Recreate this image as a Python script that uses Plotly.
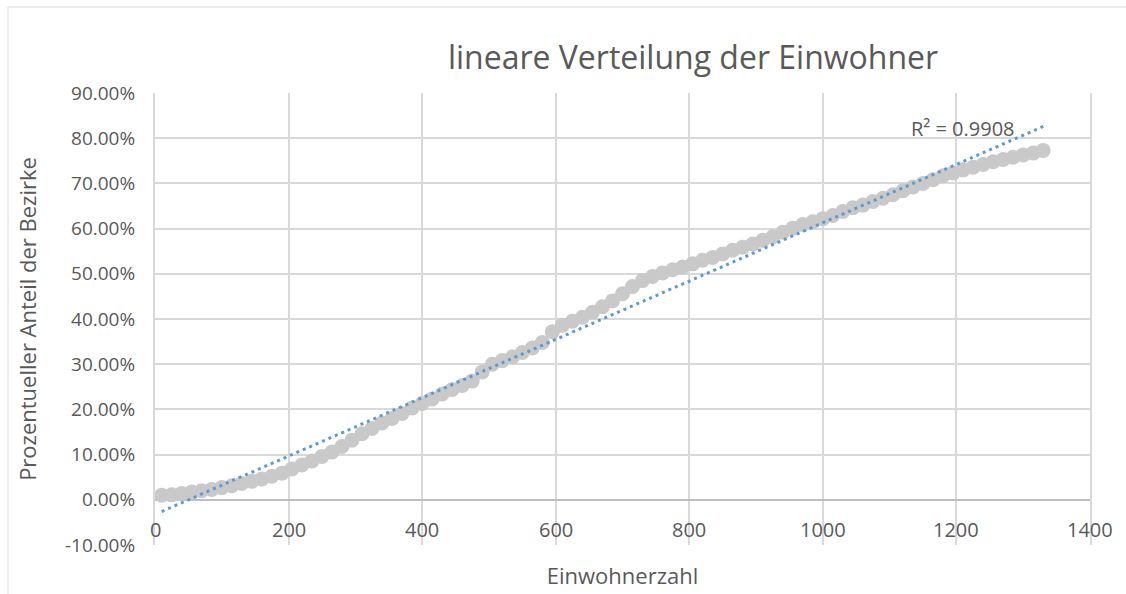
import numpy as np
import plotly.graph_objects as go

# Einwohnerzahl je Bezirk (x) und kumulierter Anteil der Bezirke in % (y)
einwohner = [
    10, 25, 40, 55, 70, 85, 100, 115, 130, 145, 160, 175, 190, 205, 220, 235,
    250, 265, 280, 295, 310, 325, 340, 355, 370, 385, 400, 415, 430, 445, 460,
    475, 490, 505, 520, 535, 550, 565, 580, 595, 610, 625, 640, 655, 670, 685,
    700, 715, 730, 745, 760, 775, 790, 805, 820, 835, 850, 865, 880, 895, 910,
    925, 940, 955, 970, 985, 1000, 1015, 1030, 1045, 1060, 1075, 1090, 1105,
    1120, 1135, 1150, 1165, 1180, 1195, 1210, 1225, 1240, 1255, 1270, 1285,
    1300, 1315, 1330,
]
anteil_prozent = [
    1.0, 1.1, 1.4, 1.7, 2.0, 2.3, 2.7, 3.1, 3.6, 4.1, 4.6, 5.2, 5.9, 6.8, 7.7,
    8.6, 9.6, 10.6, 11.8, 13.2, 14.6, 15.8, 17.0, 18.0, 19.1, 20.3, 21.3, 22.3,
    23.4, 24.4, 25.3, 26.3, 28.3, 30.0, 30.8, 31.6, 32.6, 33.6, 34.8, 37.2,
    38.6, 39.5, 40.4, 41.5, 42.7, 44.0, 45.6, 47.2, 48.5, 49.4, 50.2, 50.9,
    51.5, 52.2, 53.0, 53.6, 54.4, 55.2, 55.9, 56.6, 57.4, 58.2, 59.2, 60.1,
    60.9, 61.5, 62.2, 62.9, 63.8, 64.6, 65.2, 66.0, 66.7, 67.5, 68.4, 69.2,
    70.0, 70.8, 71.7, 72.3, 73.0, 73.6, 74.2, 74.8, 75.3, 75.8, 76.3, 76.7,
    77.3,
]
r2_text = "R² = 0.9908"

x_ticks = [0, 200, 400, 600, 800, 1000, 1200, 1400]
y_ticks = [-0.1, 0.0, 0.1, 0.2, 0.3, 0.4, 0.5, 0.6, 0.7, 0.8, 0.9]
y_labels = ["-10.00%", "0.00%", "10.00%", "20.00%", "30.00%", "40.00%",
            "50.00%", "60.00%", "70.00%", "80.00%", "90.00%"]

X_RANGE = [0, 1400]
Y_RANGE = [-0.1, 0.9]

x = np.array(einwohner, dtype=float)
y = np.array(anteil_prozent) / 100.0

# lineare Trendlinie (kleinste Quadrate)
slope, intercept = np.polyfit(x, y, 1)
x_trend = np.array([x.min(), x.max()])
y_trend = slope * x_trend + intercept

TEXT = "#595959"
FONT = "Open Sans"
GRID = "#D9D9D9"

fig = go.Figure()
fig.add_trace(go.Scatter(
    x=x, y=y, mode="markers",
    marker=dict(size=15, color="#C9C9C9", line=dict(width=0)),
    showlegend=False, hoverinfo="x+y",
))
fig.add_trace(go.Scatter(
    x=x_trend, y=y_trend, mode="lines",
    line=dict(color="#5B9BD5", width=3, dash="3px,4px"),
    showlegend=False, hoverinfo="skip",
))

# x-Beschriftung direkt unter der Nulllinie (Achse kreuzt bei 0)
tick_annotations = [
    dict(text=str(t), x=t, y=-0.066, xref="x", yref="y", showarrow=False,
         font=dict(family=FONT, size=20, color=TEXT),
         xanchor="center", yanchor="middle")
    for t in x_ticks
]

fig.update_layout(
    width=1126, height=594,
    margin=dict(l=155, r=36, t=93, b=49),
    paper_bgcolor="white", plot_bgcolor="white",
    font=dict(family=FONT, color=TEXT, size=19),
    title=dict(
        text="lineare Verteilung der Einwohner",
        font=dict(family=FONT, size=32, color=TEXT),
        x=693 / 1126, xanchor="center", y=1 - 58 / 594, yanchor="middle",
    ),
    xaxis=dict(
        range=X_RANGE, tickvals=x_ticks,
        showgrid=True, gridcolor=GRID, gridwidth=2,
        zeroline=False, showline=False, ticks="", showticklabels=False,
        automargin=False,
        title=dict(text="Einwohnerzahl", font=dict(family=FONT, size=22, color=TEXT),
                   standoff=23),
    ),
    yaxis=dict(
        range=Y_RANGE, tickvals=y_ticks, ticktext=y_labels,
        showgrid=True, gridcolor=GRID, gridwidth=2,
        zeroline=True, zerolinecolor="#BFBFBF", zerolinewidth=2,
        showline=True, mirror=True, linecolor=GRID, linewidth=2,
        ticks="", ticklabelstandoff=14, automargin=False,
        tickfont=dict(family=FONT, size=19, color=TEXT),
        title=dict(text="Prozentueller Anteil der Bezirke",
                   font=dict(family=FONT, size=22, color=TEXT), standoff=22),
    ),
    shapes=[dict(
        type="rect", xref="paper", yref="paper",
        x0=(8 - 155) / 935, x1=1.2, y0=-0.2, y1=(545 - 7) / 452,
        line=dict(color=GRID, width=1), fillcolor="rgba(0,0,0,0)",
        layer="below",
    )],
    annotations=tick_annotations + [dict(
        text=r2_text, x=1210, y=0.822, xref="x", yref="y",
        showarrow=False, font=dict(family=FONT, size=20, color=TEXT),
        xanchor="center", yanchor="middle",
    )],
)

fig.write_html("out.html")
